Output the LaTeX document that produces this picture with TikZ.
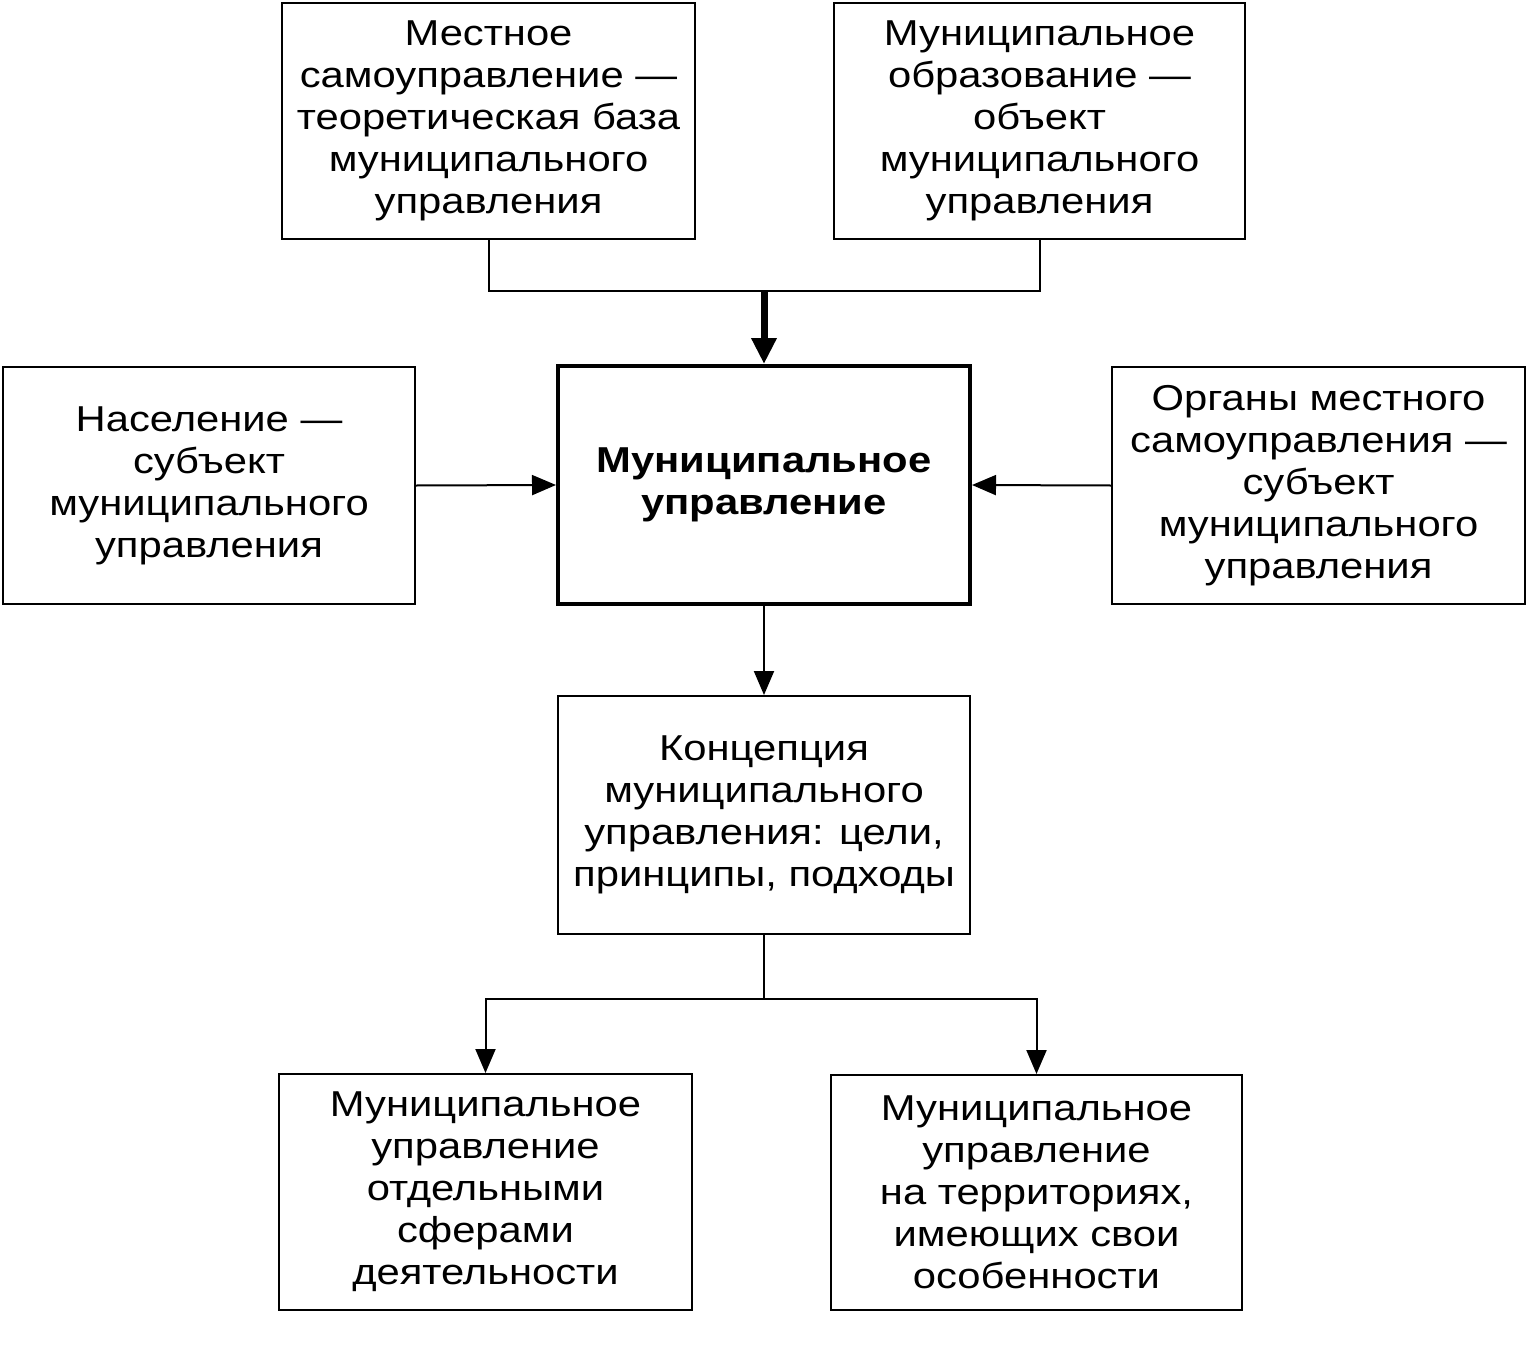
\documentclass[tikz,border=0pt]{standalone}
\usepackage{fontspec}
\setmainfont[FakeStretch=1.16]{Liberation Sans}
\usetikzlibrary{arrows.meta}
\begin{document}
\begin{tikzpicture}[x=1pt,y=-1pt,
  box/.style={draw, line width=2pt, align=center, inner sep=0pt,
    font=\fontsize{36}{42}\selectfont},
  mainbox/.style={box, line width=4pt, font=\fontsize{36}{42}\selectfont\bfseries},
  conn/.style={line width=2pt},
  arr/.style={line width=2pt, -{Triangle[length=24pt,width=20pt]}},
  thickarr/.style={line width=7pt, -{Triangle[length=26pt,width=24pt]}}]
\useasboundingbox (0,0) rectangle (1528,1351);
\node[box, minimum width=413pt, minimum height=236pt] (a) at (488.5,121)
  {Местное\\самоуправление —\\теоретическая база\\муниципального\\управления};
\node[box, minimum width=411pt, minimum height=236pt] (b) at (1039.5,121)
  {Муниципальное\\образование —\\объект\\муниципального\\управления};
\node[mainbox, minimum width=412pt, minimum height=238pt] (c) at (764,485)
  {Муниципальное\\управление};
\node[box, minimum width=412pt, minimum height=237pt] (l) at (209,485.5)
  {Население —\\субъект\\муниципального\\управления};
\node[box, minimum width=413pt, minimum height=237pt] (r) at (1318.5,485.5)
  {Органы местного\\самоуправления —\\субъект\\муниципального\\управления};
\node[box, minimum width=412pt, minimum height=238pt] (k) at (764,815)
  {Концепция\\муниципального\\управления: цели,\\принципы, подходы};
\node[box, minimum width=413pt, minimum height=236pt] (bl) at (485.5,1192)
  {Муниципальное\\управление\\отдельными\\сферами\\деятельности};
\node[box, minimum width=411pt, minimum height=235pt] (br) at (1036.5,1192.5)
  {Муниципальное\\управление\\на территориях,\\имеющих свои\\особенности};
\coordinate (j1) at (764,291);
\coordinate (j2) at (764,999);
\draw[conn] (a.south) |- (j1) -| (b.south);
\draw[thickarr] (j1) -- (c.north);
\draw[arr] (l.east) -- (c.west);
\draw[arr] (r.west) -- (c.east);
\draw[arr] (c.south) -- (k.north);
\draw[conn] (k.south) -- (j2);
\draw[arr] (j2) -| (bl.north);
\draw[arr] (j2) -| (br.north);
\end{tikzpicture}
\end{document}
